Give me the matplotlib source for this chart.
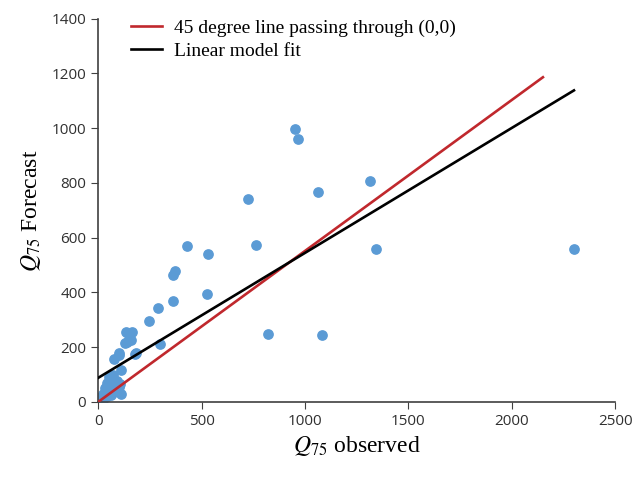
import matplotlib
matplotlib.use("Agg")
import matplotlib.pyplot as plt

plt.rcParams['mathtext.fontset'] = 'stix'

# observed vs forecast Q75 values
observed = [950, 965, 1061, 1316, 726, 765, 1345, 819, 1082, 2300,
            430, 530, 362, 370, 525, 362, 289, 244, 297,
            135, 148, 159, 132, 184, 99, 78, 111, 166, 141, 102, 180,
            20, 25, 30, 35, 40, 45, 50, 55, 60, 65, 70, 75, 80, 85,
            90, 95, 100, 105, 10, 15, 60, 110]
forecast = [996, 960, 767, 807, 741, 573, 558, 248, 245, 558,
            570, 541, 462, 478, 394, 370, 342, 296, 211,
            257, 245, 226, 214, 180, 178, 156, 117, 255, 219, 171, 175,
            10, 30, 15, 50, 20, 70, 40, 90, 25, 55, 100, 35, 60, 45,
            75, 40, 55, 65, 5, 20, 85, 30]

# reference lines
red_x = [0, 2150]
red_y = [0, 1186]
fit_x = [0, 2300]
fit_y = [88, 1138]

fig = plt.figure(figsize=(6.37, 4.78), dpi=100)
ax = fig.add_axes([0.154, 0.159, 0.812, 0.802])

ax.scatter(observed, forecast, s=45, color='#5B9BD5', zorder=2)
ax.plot(red_x, red_y, color='#C0282D', lw=1.9, label='45 degree line passing through (0,0)', zorder=3)
ax.plot(fit_x, fit_y, color='black', lw=1.9, label='Linear model fit', zorder=3)

ax.set_xlim(0, 2500)
ax.set_ylim(0, 1400)
ax.set_xticks(range(0, 2501, 500))
ax.set_yticks(range(0, 1401, 200))

for s in ['top', 'right']:
    ax.spines[s].set_visible(False)
for s in ['left', 'bottom']:
    ax.spines[s].set_color('#404040')
    ax.spines[s].set_linewidth(1.2)
ax.tick_params(direction='out', length=5, color='#404040', labelsize=11,
               labelcolor='#303030')
for lab in ax.get_xticklabels() + ax.get_yticklabels():
    lab.set_family('Open Sans')

ax.set_xlabel(r'$Q_{75}$ observed', family='Liberation Serif', fontsize=17, labelpad=4)
ax.set_ylabel(r'$Q_{75}$ Forecast', family='Liberation Serif', fontsize=17, labelpad=6)

ax.legend(loc='upper left', bbox_to_anchor=(0.03, 1.045), frameon=False,
          prop={'family': 'Liberation Serif', 'size': 14}, handlelength=1.6,
          labelspacing=0.3, handletextpad=0.6)

fig.savefig('out.png', dpi=100)
